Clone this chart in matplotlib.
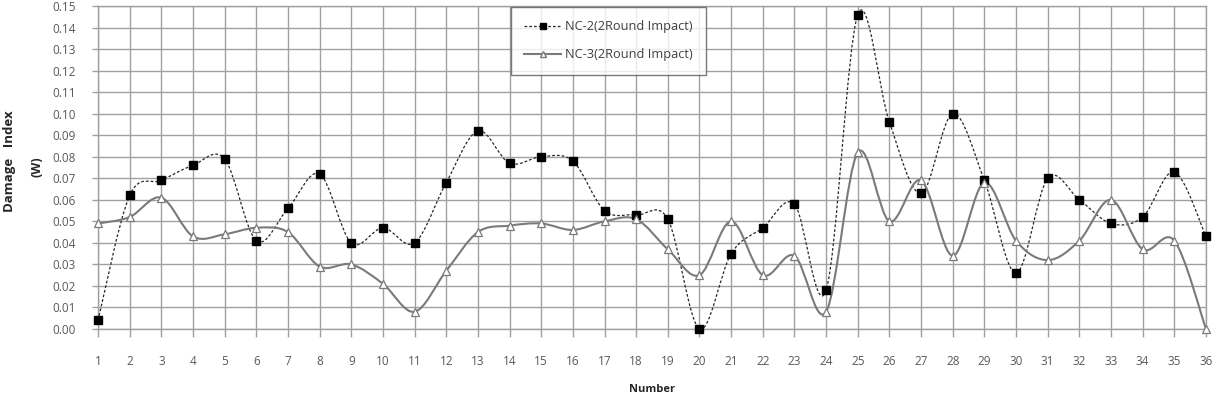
"""Damage index per specimen number, NC-2 vs NC-3 (2 round impact), Excel-style smoothed lines."""
import numpy as np
import matplotlib
matplotlib.use("Agg")
import matplotlib.pyplot as plt
from matplotlib.path import Path
from matplotlib.patches import PathPatch
from matplotlib.lines import Line2D

plt.rcParams["font.family"] = ["Open Sans", "DejaVu Sans"]

numbers = list(range(1, 37))
nc2 = [0.004, 0.062, 0.069, 0.076, 0.079, 0.041, 0.056, 0.072, 0.040, 0.047,
       0.040, 0.068, 0.092, 0.077, 0.080, 0.078, 0.055, 0.053, 0.051, 0.000,
       0.035, 0.047, 0.058, 0.018, 0.146, 0.096, 0.063, 0.100, 0.069, 0.026,
       0.070, 0.060, 0.049, 0.052, 0.073, 0.043]
nc3 = [0.049, 0.052, 0.061, 0.043, 0.044, 0.047, 0.045, 0.029, 0.030, 0.021,
       0.008, 0.027, 0.045, 0.048, 0.049, 0.046, 0.050, 0.051, 0.037, 0.025,
       0.050, 0.025, 0.034, 0.008, 0.082, 0.050, 0.069, 0.034, 0.068, 0.041,
       0.032, 0.041, 0.060, 0.037, 0.041, 0.000]
labels = ["NC-2(2Round Impact)", "NC-3(2Round Impact)"]

GRID = "#a0a0a0"; TXT = "#595959"
C2 = "#262626"; C3 = "#7a7a7a"


def smooth_path(xs, ys):
    # bezier segments through the points, like Excel's "smoothed line"
    p = np.column_stack([xs, ys]).astype(float)
    verts = [p[0]]; codes = [Path.MOVETO]
    n = len(p)
    for i in range(n - 1):
        a = p[max(i - 1, 0)]; b = p[i]; c = p[i + 1]; d = p[min(i + 2, n - 1)]
        verts += [b + (c - a) / 6, c - (d - b) / 6, c]
        codes += [Path.CURVE4] * 3
    return Path(verts, codes)


fig = plt.figure(figsize=(12.15, 3.96), dpi=100)
ax = fig.add_axes([98 / 1215, 1 - 329 / 396, (1206 - 98) / 1215, (329 - 6) / 396])

ax.add_patch(PathPatch(smooth_path(numbers, nc2), fill=False, edgecolor=C2, lw=0.9,
                       ls=(0, (2.2, 1.6)), zorder=3))
ax.plot(numbers, nc2, ls="none", marker="s", ms=5.6, mfc="black", mec="black",
        zorder=5, clip_on=False)
ax.add_patch(PathPatch(smooth_path(numbers, nc3), fill=False, edgecolor=C3, lw=1.5, zorder=3))
ax.plot(numbers, nc3, ls="none", marker="^", ms=5.2, mfc="white", mec=C3, mew=0.9,
        zorder=5, clip_on=False)

ax.set_xlim(1, 36)
ax.set_ylim(0, 0.15)
ax.set_xticks(numbers)
ax.set_yticks(np.arange(0, 0.151, 0.01))
ax.yaxis.set_major_formatter(matplotlib.ticker.FormatStrFormatter("%.2f"))
ax.grid(True, color=GRID, lw=1.0, zorder=0)
for s in ax.spines.values():
    s.set_color(GRID); s.set_linewidth(1.0)
ax.tick_params(axis="both", colors=GRID, labelcolor=TXT, labelsize=8.5, width=1.0)
ax.tick_params(axis="y", length=4, pad=12)
ax.tick_params(axis="x", length=6, pad=13)

fig.text(652 / 1215, 1 - 390 / 396, "Number", ha="center", va="center",
         fontsize=8, fontweight="bold", color="#262626")
fig.text(10 / 1215, 1 - 161 / 396, "Damage   Index", rotation=90, ha="center", va="center",
         fontsize=9.5, fontweight="bold", color="#262626")
fig.text(37 / 1215, 1 - 167 / 396, "(W)", rotation=90, ha="center", va="center",
         fontsize=9, fontweight="bold", color="#262626")

handles = [Line2D([0], [0], color=C2, lw=0.9, ls=(0, (2.2, 1.6)), marker="s", ms=5,
                  mfc="black", mec="black"),
           Line2D([0], [0], color=C3, lw=1.5, marker="^", ms=4.5, mfc="white", mec=C3)]
leg = ax.legend(handles, labels, loc="upper left",
                bbox_to_anchor=(511 / 1215, 1 - 7 / 396),
                bbox_transform=fig.transFigure, fontsize=9.2, frameon=True, fancybox=False,
                handlelength=2.9, labelspacing=1.15, borderpad=1.05, handletextpad=0.3,
                borderaxespad=0)
leg.get_frame().set_edgecolor("#595959")
leg.get_frame().set_linewidth(1.0)
for t in leg.get_texts():
    t.set_color("#404040")

fig.savefig("out.png", dpi=100)
print("saved out.png")
